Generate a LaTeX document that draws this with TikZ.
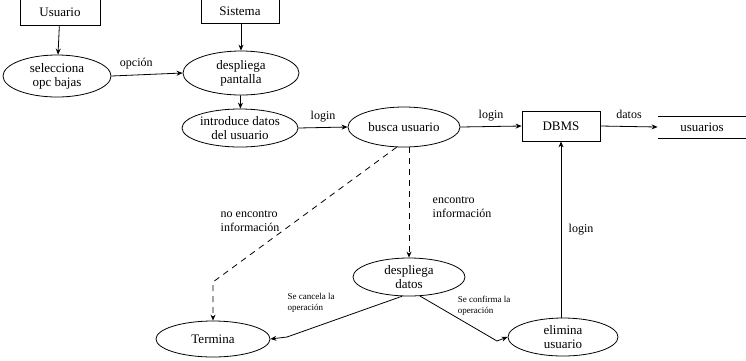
\documentclass[tikz,border=0pt]{standalone}
\usepackage{fontspec}
\setmainfont{Liberation Serif}
\usetikzlibrary{shapes.geometric,arrows.meta}
\begin{document}
\begin{tikzpicture}[x=1pt,y=-1pt,
  every path/.style={line width=0.8pt},
  entity/.style={draw, rectangle, inner sep=0pt, font=\fontsize{13}{14}\selectfont},
  proc/.style={draw, ellipse, inner sep=0pt, align=center, font=\fontsize{13}{14}\selectfont},
  lbl/.style={font=\fontsize{12}{13.5}\selectfont, align=left},
  small/.style={font=\fontsize{9}{11}\selectfont, align=left},
  flow/.style={-{Stealth[length=6pt,width=5pt]}},
  chosen/.style={flow, dashed, dash pattern=on 6pt off 5pt}]
\useasboundingbox (0,0) rectangle (746,360);

% external entities
\node[entity, minimum width=80, minimum height=26] (usuario) at (60,12) {Usuario};
\node[entity, minimum width=78, minimum height=24] (sistema) at (240,11) {Sistema};

% processes
\node[proc, minimum width=108, minimum height=42] (selecciona) at (57,76) {selecciona\\opc bajas};
\node[proc, minimum width=116, minimum height=44] (pantalla) at (241,73) {despliega\\pantalla};
\node[proc, minimum width=116, minimum height=38] (introduce) at (240,128) {introduce datos\\del usuario};
\node[proc, minimum width=112, minimum height=40] (busca) at (404,127) {busca usuario};
\node[proc, minimum width=112, minimum height=38] (ddatos) at (409,277) {despliega\\datos};
\node[proc, minimum width=114, minimum height=36] (termina) at (213,339) {Termina};
\node[proc, minimum width=110, minimum height=38] (elimina) at (563,337) {elimina\\usuario};

% DBMS and data store
\node[entity, minimum width=78, minimum height=30] (dbms) at (561,126) {DBMS};
\node[minimum width=88, minimum height=21, inner sep=0pt, font=\fontsize{13}{14}\selectfont] (store) at (702,127) {usuarios};
\draw (store.north west) -- (store.north east);
\draw (store.south west) -- (store.south east);

% bend points
\coordinate (b1) at (213,282);
\coordinate (b2) at (287,337);
\coordinate (b3) at (497,341);

% flows
\draw[flow] (usuario) -- (selecciona);
\draw[flow] (sistema.south -| pantalla.north) -- (pantalla.north);
\draw[flow] (selecciona.east) -- node[lbl, above=2pt, pos=0.35] {opción} (pantalla.west);
\draw[flow] (pantalla) -- (introduce);
\draw[flow] (introduce.east) -- node[lbl, above=2pt] {login} (busca.west);
\draw[flow] (busca.east) -- node[lbl, above=2pt] {login} (dbms.west);
\draw[flow] (dbms.east) -- node[lbl, above=4pt] {datos} (store.west);
\draw[chosen] (busca.250) -- (b1) -- (termina.north);
\draw[chosen] (busca.south -| ddatos.north) -- (ddatos.north);
\draw[flow] (ddatos.250) -- (b2) -- (termina.east);
\draw[flow] (ddatos.300) -- (b3) -- (elimina.west);
\draw[flow] (elimina.north -| dbms.south) -- (dbms.south);

% flow labels
\node[lbl] (noenc) at (250,221) {no encontro\\información};
\node[lbl] (enc) at (462,207) {encontro\\información};
\node[small] (cancela) at (311,303) {Se cancela la\\operación};
\node[small] (confirma) at (484,306) {Se confirma la\\operación};
\node[lbl] (login3) at (581,230) {login};
\end{tikzpicture}
\end{document}
